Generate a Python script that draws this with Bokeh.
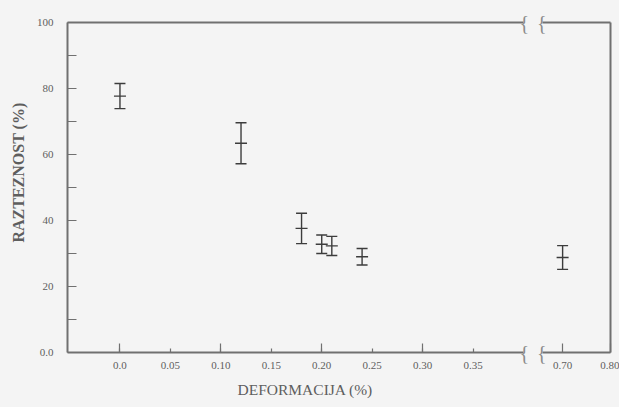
from bokeh.plotting import figure
from bokeh.layouts import row
from bokeh.models import (ColumnDataSource, Whisker, TeeHead, FixedTicker, LinearAxis,
                          Range1d, Title, PrintfTickFormatter)
from bokeh.embed import file_html
from bokeh.resources import INLINE

# ---- data ----
deformation = [0.0, 0.12, 0.18, 0.20, 0.21, 0.24, 0.70]
elongation = [77.7, 63.4, 37.6, 32.8, 32.3, 29.0, 28.8]
error = [3.8, 6.2, 4.6, 2.8, 2.9, 2.5, 3.6]

x_ticks_left = [0.0, 0.05, 0.10, 0.15, 0.20, 0.25, 0.30, 0.35]
x_long_ticks_left = [0.0, 0.10, 0.20, 0.30]
x_ticks_right = [0.70, 0.80]
y_ticks = [0, 20, 40, 60, 80, 100]
y_minor_ticks = [10, 30, 50, 70, 90]

x_label = "DEFORMACIJA (%)"
y_label = "RAZTEZNOST (%)"
break_mark = "{"

LEFT_MAX = 0.40
RIGHT_MIN = 0.658

BG = "#f4f4f4"
AX = "#707070"
TXT = "#5e5e5e"
BAR = "#3c3c3c"
FONT = "Liberation Serif"


def make_source(sel):
    xs = [x for x, s in zip(deformation, sel) if s]
    ys = [y for y, s in zip(elongation, sel) if s]
    es = [e for e, s in zip(error, sel) if s]
    return ColumnDataSource(dict(x=xs, y=ys, upper=[y + e for y, e in zip(ys, es)],
                                 lower=[y - e for y, e in zip(ys, es)]))


src_left = make_source([x <= LEFT_MAX for x in deformation])
src_right = make_source([x >= RIGHT_MIN for x in deformation])


def style_common(p):
    p.background_fill_color = BG
    p.border_fill_color = BG
    p.outline_line_color = None
    p.grid.visible = False


def add_errorbars(p, src):
    w = Whisker(source=src, base="x", upper="upper", lower="lower",
                line_color=BAR, line_width=1.4,
                upper_head=TeeHead(size=11, line_color=BAR, line_width=1.4),
                lower_head=TeeHead(size=11, line_color=BAR, line_width=1.4))
    p.add_layout(w)
    p.scatter("x", "y", source=src, marker="dash", size=12, line_color=BAR, line_width=1.4)


def style_axis(ax):
    ax.axis_line_color = AX
    ax.axis_line_width = 2
    ax.major_tick_line_color = AX
    ax.minor_tick_line_color = AX
    ax.major_tick_line_width = 1.2
    ax.minor_tick_line_width = 1.2
    ax.major_tick_out = 0
    ax.minor_tick_out = 0
    ax.major_label_text_font = FONT
    ax.major_label_text_font_size = "11px"
    ax.major_label_text_color = TXT


def blank_axis(ax):
    ax.axis_line_color = AX
    ax.axis_line_width = 2
    ax.ticker = FixedTicker(ticks=[])
    ax.major_tick_line_color = None
    ax.minor_tick_line_color = None
    ax.major_label_text_font_size = "0px"
    ax.major_label_standoff = 0


def break_axis(standoff):
    ax = LinearAxis(ticker=FixedTicker(ticks=[0, 100]))
    ax.axis_line_color = None
    ax.major_tick_line_color = None
    ax.minor_tick_line_color = None
    ax.major_tick_in = 0
    ax.major_tick_out = 0
    ax.major_label_overrides = {0: break_mark, 100: break_mark}
    ax.major_label_text_font = FONT
    ax.major_label_text_font_size = "20px"
    ax.major_label_text_color = "#8a8a8a"
    ax.major_label_standoff = standoff
    return ax


yr = Range1d(0, 100)

# ---- left panel ----
p1 = figure(frame_width=456, frame_height=330, x_range=Range1d(-0.052, LEFT_MAX), y_range=yr,
            output_backend="svg", toolbar_location=None,
            min_border_left=67, min_border_right=10, min_border_top=22, min_border_bottom=55)
style_common(p1)
add_errorbars(p1, src_left)

xa = p1.xaxis[0]
style_axis(xa)
xa.ticker = FixedTicker(ticks=x_ticks_left, minor_ticks=x_long_ticks_left)
xa.formatter = PrintfTickFormatter(format="%.2f")
xa.major_label_overrides = {0.0: "0.0"}
xa.major_tick_in = 4
xa.minor_tick_in = 9
xa.major_label_standoff = 9

ya = p1.yaxis[0]
style_axis(ya)
ya.ticker = FixedTicker(ticks=y_ticks, minor_ticks=y_minor_ticks)
ya.major_label_overrides = {0: "0.0"}
ya.major_tick_in = 9
ya.minor_tick_in = 9
ya.major_label_standoff = 14

top1 = LinearAxis()
blank_axis(top1)
p1.add_layout(top1, "above")
p1.add_layout(break_axis(-4), "right")

p1.add_layout(Title(text=y_label, align="right", offset=80, vertical_align="middle",
                    standoff=12, text_font=FONT, text_font_size="16px",
                    text_font_style="bold", text_color=TXT), "left")
p1.add_layout(Title(text=x_label, align="left", offset=170, vertical_align="bottom",
                    standoff=14, text_font=FONT, text_font_size="15.5px",
                    text_font_style="normal", text_color=TXT), "below")

# ---- right panel ----
p2 = figure(frame_width=68, frame_height=330, x_range=Range1d(RIGHT_MIN, 0.80), y_range=yr,
            output_backend="svg", toolbar_location=None, y_axis_location="right",
            min_border_left=9, min_border_right=9, min_border_top=22, min_border_bottom=55)
style_common(p2)
add_errorbars(p2, src_right)

xb = p2.xaxis[0]
style_axis(xb)
xb.ticker = FixedTicker(ticks=x_ticks_right)
xb.formatter = PrintfTickFormatter(format="%.2f")
xb.major_tick_in = 9
xb.major_label_standoff = 9

blank_axis(p2.yaxis[0])
top2 = LinearAxis()
blank_axis(top2)
p2.add_layout(top2, "above")
p2.add_layout(break_axis(-4), "left")

layout = row(p1, p2)
layout.styles = {"background-color": BG}

open("out.html", "w").write(file_html(layout, INLINE))
